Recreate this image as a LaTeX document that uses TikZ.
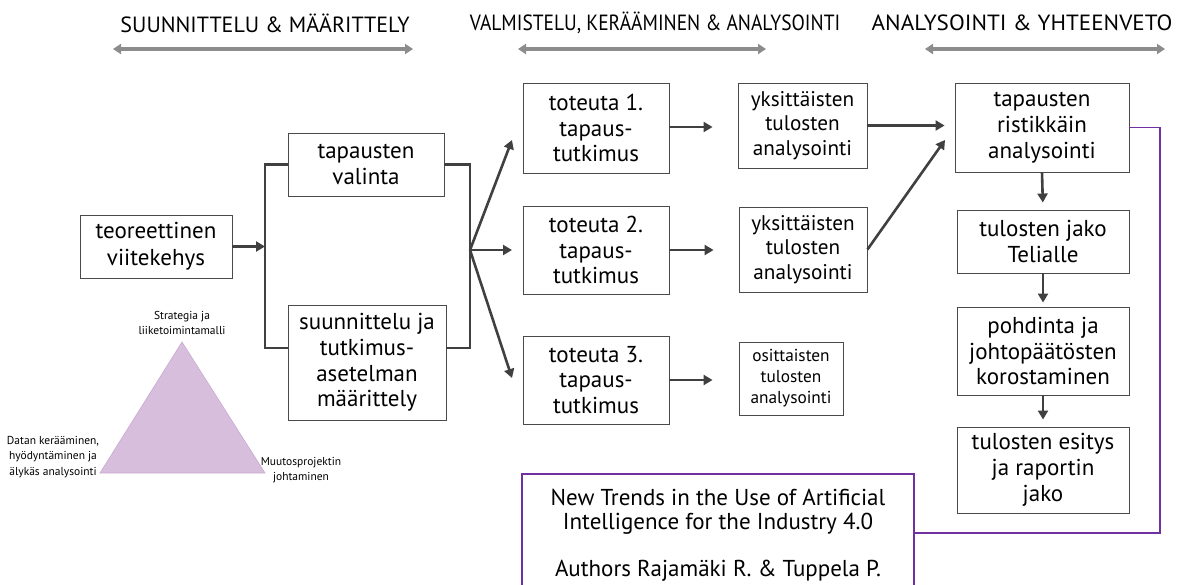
\documentclass[tikz,border=0pt]{standalone}
\usepackage{fontspec}
\setmainfont{PT Sans}
\usetikzlibrary{arrows.meta,calc}
\definecolor{boxgray}{HTML}{4A4A4A}
\definecolor{arrowgray}{HTML}{404040}
\definecolor{headgray}{HTML}{8C8C8C}
\definecolor{violet}{HTML}{7030A0}
\definecolor{lilac}{HTML}{D8BEDD}
\definecolor{lilacedge}{HTML}{C9A9D2}
\newcommand{\fsz}[2]{\fontsize{#1}{#2}\selectfont}
\tikzset{
  box/.style={draw=boxgray, line width=0.9pt, align=center, inner sep=0pt,
    font=\fsz{23}{25.8}},
  midbox/.style={box, font=\fsz{21.2}{24.5}},
  smallbox/.style={box, font=\fsz{17.3}{21}},
  flow/.style={draw=arrowgray, line width=2.6pt,
    -{Triangle[length=9pt,width=10pt]}},
  bracket/.style={draw=arrowgray, line width=2.6pt},
  phase/.style={draw=headgray, line width=3.2pt,
    {Triangle[length=8pt,width=10pt]}-{Triangle[length=8pt,width=10pt]}},
  phasetitle/.style={font=\fsz{22}{26}},
  tinylabel/.style={align=center, font=\fsz{11.5}{15.5}},
  link/.style={draw=violet, line width=1.6pt}
}
\begin{document}
\begin{tikzpicture}[x=1pt,y=-1pt]
\useasboundingbox (0,0) rectangle (1181,585);
\clip (0,0) rectangle (1181,585);

% phase headings
\node[phasetitle] (h1) at (265,23) {SUUNNITTELU \& MÄÄRITTELY};
\node[phasetitle] (h2) at (655,23) {\scalebox{0.885}[1]{VALMISTELU, KERÄÄMINEN \& ANALYSOINTI}};
\node[phasetitle] (h3) at (1022,23) {\scalebox{1.05}[1]{ANALYSOINTI \& YHTEENVETO}};
\coordinate (h1a) at (113,49); \coordinate (h1b) at (413,49);
\coordinate (h2a) at (518,49); \coordinate (h2b) at (766,49);
\coordinate (h3a) at (925,49); \coordinate (h3b) at (1165,49);
\draw[phase] (h1a) -- (h1b);
\draw[phase] (h2a) -- (h2b);
\draw[phase] (h3a) -- (h3b);

% planning column
\node[box, minimum width=152, minimum height=63, font=\fsz{23}{27}] (teo) at (156,246.5) {teoreettinen\\viitekehys};
\node[box, minimum width=156, minimum height=63] (valinta) at (366,164.5) {tapausten\\valinta};
\node[box, minimum width=158, minimum height=115] (suunn) at (367,362.5) {suunnittelu ja\\tutkimus-\\asetelman\\määrittely};

% case studies
\node[box, minimum width=146, minimum height=90] (tot1) at (596,128) {toteuta 1.\\tapaus-\\tutkimus};
\node[box, minimum width=146, minimum height=88] (tot2) at (596,250) {toteuta 2.\\tapaus-\\tutkimus};
\node[box, minimum width=146, minimum height=88] (tot3) at (596,380) {toteuta 3.\\tapaus-\\tutkimus};

% per-case analysis
\node[midbox, minimum width=129, minimum height=85] (yks1) at (802.5,125.5) {yksittäisten\\tulosten\\analysointi};
\node[midbox, minimum width=128, minimum height=85] (yks2) at (803,249.5) {yksittäisten\\tulosten\\analysointi};
\node[smallbox, minimum width=104, minimum height=73] (osit) at (791,378.5) {osittaisten\\tulosten\\analysointi};

% synthesis column
\node[box, minimum width=174, minimum height=89] (rist) at (1042,127.5) {tapausten\\ristikkäin\\analysointi};
\node[box, minimum width=172, minimum height=63] (telia) at (1043,241.5) {tulosten jako\\Telialle};
\node[box, minimum width=172, minimum height=88] (pohd) at (1043,351) {pohdinta ja\\johtopäätösten\\korostaminen};
\node[box, minimum width=172, minimum height=86] (esit) at (1043,470) {tulosten esitys\\ja raportin\\jako};

% publication box
\node[draw=violet, line width=1.6pt, minimum width=392, minimum height=160,
      anchor=north, inner sep=0pt] (trends) at (718,473) {};
\node[align=center, font=\fsz{23}{23.5}, anchor=north] (trendstxt) at (718,486)
  {New Trends in the Use of Artificial\\Intelligence for the Industry 4.0\\[23.5pt]Authors Rajamäki R. \& Tuppela P.};

% triangle
\coordinate (ta) at (182,342);
\coordinate (tb) at (100,473);
\coordinate (tc) at (265,473);
\filldraw[fill=lilac, draw=lilacedge, line width=0.6pt] (ta) -- (tb) -- (tc) -- cycle;
\node[tinylabel] (lab1) at (182,323) {Strategia ja\\liiketoimintamalli};
\node[tinylabel] (lab2) at (53,457) {Datan kerääminen,\\hyödyntäminen ja\\älykäs analysointi};
\node[tinylabel] (lab3) at (301,470) {Muutosprojektin\\johtaminen};

% bracket joining the two planning boxes
\coordinate (bl) at (265,246.5);
\coordinate (fan) at (470,250);
\draw[flow] (teo.east) -- (bl);
\draw[bracket] (valinta.west) -| (265,348) -- (suunn.west |- 0,348);
\draw[bracket] (valinta.east) -| (fan) |- (suunn.east |- 0,348);

% fan-out to the case studies
\coordinate (f1) at (512,140);
\coordinate (f2) at (512,250);
\coordinate (f3) at (512,378);
\draw[flow] (fan) -- (f1);
\draw[flow] (fan) -- (f2);
\draw[flow] (fan) -- (f3);

\draw[flow, shorten >=25pt] (tot1.east |- 0,127) -- (yks1.west |- 0,127);
\draw[flow, shorten >=25pt] (tot2.east) -- (yks2.west |- tot2.east);
\draw[flow, shorten >=26pt] (tot3.east) -- (osit.west |- tot3.east);

\draw[flow, shorten >=10pt] (yks1.east) -- (rist.west |- yks1.east);
\coordinate (r2) at (945,140);
\draw[flow] (yks2.east) -- (r2);

\draw[flow, shorten >=7pt] (rist.south) -- (telia.north);
\draw[flow, shorten >=4pt] (telia.south) -- (pohd.north);
\draw[flow, shorten >=7pt] (pohd.south) -- (esit.north);

% link from the synthesis column to the publication
\draw[link] (rist.east) -- (1160,127.5) -- (1160,533) -- (trends.east |- 0,533);
\end{tikzpicture}
\end{document}
